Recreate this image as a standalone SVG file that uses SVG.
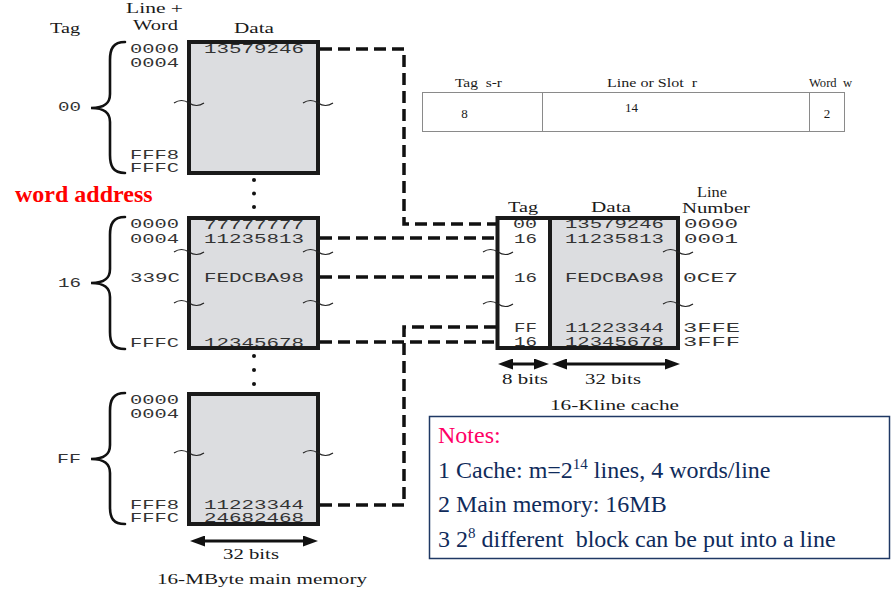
<svg xmlns="http://www.w3.org/2000/svg" width="891" height="590" viewBox="0 0 891 590">
<style>
.bg{fill:#ffffff}
.fill{fill:#dcdde0;stroke:none}
.frame{fill:none;stroke:#1a1a1a;stroke-width:4}
.mono{font-family:"Liberation Mono","Courier New",monospace;font-size:13.5px;fill:#333333}
.serif{font-family:"Liberation Serif","Times New Roman",serif;font-size:15px;fill:#1a1a1a}
.small{font-family:"Liberation Serif","Times New Roman",serif;font-size:13px;fill:#1a1a1a}
.brace{fill:none;stroke:#111;stroke-width:2.6;stroke-linecap:round}
.tilde{fill:none;stroke:#222;stroke-width:1.2}
.dash{fill:none;stroke:#111;stroke-width:3.5;stroke-dasharray:12 6}
.arrow{fill:none;stroke:#111;stroke-width:3;marker-start:url(#ah);marker-end:url(#ah)}
.dot{fill:#111}
.fmt{fill:none;stroke:#8a8a8a;stroke-width:1}
.notes{font-family:"Liberation Serif","Times New Roman",serif;font-size:24px;fill:#0f2b5b}
</style>
<defs>
<marker id="ah" markerUnits="userSpaceOnUse" markerWidth="15" markerHeight="11" viewBox="0 0 15 11" refX="5" refY="5.5" orient="auto-start-reverse">
<path d="M0,0 L15,5.5 L0,11 z" fill="#111"/>
</marker>
</defs>
<rect class="bg" x="0" y="0" width="891" height="590"/>

<g id="connectors">
<path class="dash" d="M320,49 H404 V224 H496"/>
<path class="dash" d="M320,238 H496"/>
<path class="dash" d="M320,277 H496"/>
<path class="dash" d="M320,342 H496"/>
<path class="dash" d="M320,505 H404 V327 H496"/>
</g>

<g id="main-headers">
<text class="serif" x="50" y="33" textLength="30" lengthAdjust="spacingAndGlyphs">Tag</text>
<text class="serif" x="126" y="13" textLength="57" lengthAdjust="spacingAndGlyphs">Line +</text>
<text class="serif" x="133" y="30" textLength="45" lengthAdjust="spacingAndGlyphs">Word</text>
<text class="serif" x="234" y="33" textLength="40" lengthAdjust="spacingAndGlyphs">Data</text>
</g>

<g id="word-address">
<text x="15" y="202" font-family="'Liberation Serif','Times New Roman',serif" font-size="24" font-weight="bold" fill="#ff0000">word address</text>
</g>

<g id="block-00">
<rect class="fill" x="189" y="42" width="129" height="131"/>
<text class="mono" x="204" y="53" textLength="100" lengthAdjust="spacingAndGlyphs">13579246</text>
<rect class="frame" x="189" y="42" width="129" height="131"/>
<text class="mono" x="130" y="53" textLength="49" lengthAdjust="spacingAndGlyphs">0000</text>
<text class="mono" x="130" y="67" textLength="49" lengthAdjust="spacingAndGlyphs">0004</text>
<text class="mono" x="130" y="159" textLength="49" lengthAdjust="spacingAndGlyphs">FFF8</text>
<text class="mono" x="130" y="172" textLength="49" lengthAdjust="spacingAndGlyphs">FFFC</text>
<text class="mono" x="58" y="111" textLength="23" lengthAdjust="spacingAndGlyphs">00</text>
<path class="brace" d="M125,42 C113,42 110,49 110,60 L110,94 C110,103 105,108 91,108 C105,108 110,113 110,122 L110,155 C110,166 113,173 125,173"/>
<path class="tilde" d="M174,103 q7.5,-5 15,0 t15,0"/>
<path class="tilde" d="M303,103 q7.5,-5 15,0 t15,0"/>
</g>

<g id="dots-1">
<circle class="dot" cx="254" cy="180" r="2"/>
<circle class="dot" cx="254" cy="193.5" r="2"/>
<circle class="dot" cx="254" cy="207" r="2"/>
</g>

<g id="block-16">
<rect class="fill" x="189" y="218" width="129" height="130"/>
<text class="mono" x="204" y="229" textLength="100" lengthAdjust="spacingAndGlyphs">77777777</text>
<text class="mono" x="204" y="243" textLength="100" lengthAdjust="spacingAndGlyphs">11235813</text>
<text class="mono" x="204" y="282" textLength="100" lengthAdjust="spacingAndGlyphs">FEDCBA98</text>
<text class="mono" x="204" y="347" textLength="100" lengthAdjust="spacingAndGlyphs">12345678</text>
<rect class="frame" x="189" y="218" width="129" height="130"/>
<text class="mono" x="130" y="228" textLength="49" lengthAdjust="spacingAndGlyphs">0000</text>
<text class="mono" x="130" y="243" textLength="49" lengthAdjust="spacingAndGlyphs">0004</text>
<text class="mono" x="130" y="282" textLength="50" lengthAdjust="spacingAndGlyphs">339C</text>
<text class="mono" x="130" y="347" textLength="49" lengthAdjust="spacingAndGlyphs">FFFC</text>
<text class="mono" x="58" y="287" textLength="23" lengthAdjust="spacingAndGlyphs">16</text>
<path class="brace" d="M125,217 C113,217 110,224 110,235 L110,269 C110,278 105,283 91,283 C105,283 110,288 110,297 L110,332 C110,343 113,349 125,349"/>
<path class="tilde" d="M174,252 q7.5,-5 15,0 t15,0"/>
<path class="tilde" d="M303,252 q7.5,-5 15,0 t15,0"/>
<path class="tilde" d="M174,303 q7.5,-5 15,0 t15,0"/>
<path class="tilde" d="M303,303 q7.5,-5 15,0 t15,0"/>
</g>

<g id="dots-2">
<circle class="dot" cx="254" cy="356" r="2"/>
<circle class="dot" cx="254" cy="370" r="2"/>
<circle class="dot" cx="254" cy="384" r="2"/>
</g>

<g id="block-FF">
<rect class="fill" x="189" y="394" width="129" height="130"/>
<text class="mono" x="204" y="509" textLength="100" lengthAdjust="spacingAndGlyphs">11223344</text>
<text class="mono" x="204" y="522" textLength="100" lengthAdjust="spacingAndGlyphs">24682468</text>
<rect class="frame" x="189" y="394" width="129" height="130"/>
<text class="mono" x="130" y="404" textLength="49" lengthAdjust="spacingAndGlyphs">0000</text>
<text class="mono" x="130" y="418" textLength="49" lengthAdjust="spacingAndGlyphs">0004</text>
<text class="mono" x="130" y="509" textLength="49" lengthAdjust="spacingAndGlyphs">FFF8</text>
<text class="mono" x="130" y="522" textLength="49" lengthAdjust="spacingAndGlyphs">FFFC</text>
<text class="mono" x="57" y="463" textLength="24" lengthAdjust="spacingAndGlyphs">FF</text>
<path class="brace" d="M125,393 C113,393 110,400 110,411 L110,445 C110,454 105,459 91,459 C105,459 110,464 110,473 L110,507 C110,518 113,524 125,524"/>
<path class="tilde" d="M174,453 q7.5,-5 15,0 t15,0"/>
<path class="tilde" d="M303,453 q7.5,-5 15,0 t15,0"/>
</g>

<g id="main-width">
<path class="arrow" d="M200,541 H308"/>
<text class="serif" x="223" y="559" textLength="56" lengthAdjust="spacingAndGlyphs">32 bits</text>
<text class="serif" x="157" y="584" textLength="210" lengthAdjust="spacingAndGlyphs">16-MByte main memory</text>
</g>

<g id="cache">
<text class="serif" x="508" y="212" textLength="30" lengthAdjust="spacingAndGlyphs">Tag</text>
<text class="serif" x="591" y="212" textLength="40" lengthAdjust="spacingAndGlyphs">Data</text>
<text class="serif" x="697" y="197" textLength="30" lengthAdjust="spacingAndGlyphs">Line</text>
<text class="serif" x="682" y="213" textLength="68" lengthAdjust="spacingAndGlyphs">Number</text>
<rect x="497.5" y="218" width="52.5" height="130" fill="#ffffff"/>
<rect class="fill" x="550" y="218" width="128" height="130"/>
<text class="mono" x="513" y="228" textLength="24" lengthAdjust="spacingAndGlyphs">00</text>
<text class="mono" x="514" y="242.5" textLength="23" lengthAdjust="spacingAndGlyphs">16</text>
<text class="mono" x="514" y="282" textLength="23" lengthAdjust="spacingAndGlyphs">16</text>
<text class="mono" x="514" y="332" textLength="23" lengthAdjust="spacingAndGlyphs">FF</text>
<text class="mono" x="514" y="346" textLength="23" lengthAdjust="spacingAndGlyphs">16</text>
<text class="mono" x="565" y="228" textLength="99" lengthAdjust="spacingAndGlyphs">13579246</text>
<text class="mono" x="565" y="242.5" textLength="99" lengthAdjust="spacingAndGlyphs">11235813</text>
<text class="mono" x="565" y="282" textLength="99" lengthAdjust="spacingAndGlyphs">FEDCBA98</text>
<text class="mono" x="565" y="332" textLength="99" lengthAdjust="spacingAndGlyphs">11223344</text>
<text class="mono" x="565" y="346" textLength="99" lengthAdjust="spacingAndGlyphs">12345678</text>
<rect class="frame" x="497.5" y="218" width="180.5" height="130"/>
<line x1="550" y1="218" x2="550" y2="348" stroke="#1a1a1a" stroke-width="4"/>
<text class="mono" x="684" y="228" textLength="54" lengthAdjust="spacingAndGlyphs">0000</text>
<text class="mono" x="684" y="242.5" textLength="54" lengthAdjust="spacingAndGlyphs">0001</text>
<text class="mono" x="683" y="282" textLength="55" lengthAdjust="spacingAndGlyphs">0CE7</text>
<text class="mono" x="683" y="332" textLength="57" lengthAdjust="spacingAndGlyphs">3FFE</text>
<text class="mono" x="683" y="346" textLength="57" lengthAdjust="spacingAndGlyphs">3FFF</text>
<path class="tilde" d="M483,252 q7.5,-5 15,0 t15,0"/>
<path class="tilde" d="M483,304 q7.5,-5 15,0 t15,0"/>
<path class="tilde" d="M663,252 q7.5,-5 15,0 t15,0"/>
<path class="tilde" d="M663,304 q7.5,-5 15,0 t15,0"/>
<path class="arrow" d="M508,364 H539"/>
<path class="arrow" d="M562,364 H670"/>
<text class="serif" x="502" y="384" textLength="46" lengthAdjust="spacingAndGlyphs">8 bits</text>
<text class="serif" x="585" y="384" textLength="56" lengthAdjust="spacingAndGlyphs">32 bits</text>
<text class="serif" x="550" y="410" textLength="129" lengthAdjust="spacingAndGlyphs">16-Kline cache</text>
</g>

<g id="address-format">
<text class="small" x="455" y="87" xml:space="preserve" textLength="47" lengthAdjust="spacingAndGlyphs">Tag  s-r</text>
<text class="small" x="607" y="87" xml:space="preserve" textLength="90" lengthAdjust="spacingAndGlyphs">Line or Slot  r</text>
<text class="small" x="809" y="87" xml:space="preserve" textLength="43" lengthAdjust="spacingAndGlyphs">Word  w</text>
<rect class="fmt" x="422.5" y="92.5" width="422" height="39"/>
<line class="fmt" x1="542.5" y1="92.5" x2="542.5" y2="131.5"/>
<line class="fmt" x1="809.5" y1="92.5" x2="809.5" y2="131.5"/>
<text class="small" x="464.5" y="118" text-anchor="middle">8</text>
<text class="small" x="631.5" y="112" text-anchor="middle">14</text>
<text class="small" x="827" y="118" text-anchor="middle">2</text>
</g>

<g id="notes">
<rect x="429.5" y="416.5" width="460" height="142" fill="#ffffff" stroke="#1f3864" stroke-width="1.5"/>
<text class="notes" x="438" y="443" style="fill:#ff0066">Notes:</text>
<text class="notes" x="438" y="478">1 Cache: m=2<tspan font-size="15" dy="-9">14</tspan><tspan dy="9"> lines, 4 words/line</tspan></text>
<text class="notes" x="438" y="512">2 Main memory: 16MB</text>
<text class="notes" x="438" y="547" xml:space="preserve">3 2<tspan font-size="15" dy="-9">8</tspan><tspan dy="9"> different  block can be put into a line</tspan></text>
</g>
</svg>
